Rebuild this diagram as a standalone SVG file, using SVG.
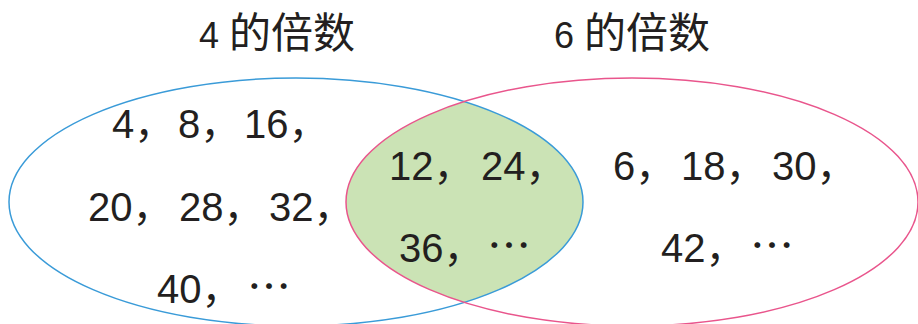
<svg xmlns="http://www.w3.org/2000/svg" width="918" height="324" viewBox="0 0 918 324">
<style>
.num{font-family:"Liberation Sans","Noto Sans CJK SC",Arial,sans-serif;font-size:40px;fill:#231f20}
.ell{font-family:"Noto Sans CJK SC",sans-serif;font-size:44px;fill:#231f20}
.ttl{font-family:"Liberation Sans","Noto Sans CJK SC",sans-serif;fill:#231f20}
.cjk{font-family:"Noto Sans CJK SC",sans-serif;font-size:42px}
</style>
<defs>
<clipPath id="clipL"><ellipse cx="296" cy="202" rx="287" ry="124"/></clipPath>
</defs>
<g id="intersection">
<ellipse cx="632" cy="202" rx="286" ry="124" fill="#cbe3b5" clip-path="url(#clipL)"/>
</g>
<g id="set4">
<ellipse cx="296" cy="202" rx="287" ry="124" fill="none" stroke="#3a9bd8" stroke-width="1.5"/>
</g>
<g id="set6">
<ellipse cx="632" cy="202" rx="286" ry="124" fill="none" stroke="#e9558c" stroke-width="1.5"/>
</g>
<g id="titles">
<text class="ttl" x="199" y="48"><tspan font-size="36">4 </tspan><tspan class="cjk">的倍数</tspan></text>
<text class="ttl" x="554" y="48"><tspan font-size="36">6 </tspan><tspan class="cjk">的倍数</tspan></text>
</g>
<g id="labels">
<text class="num" y="138"><tspan x="112">4，</tspan><tspan x="178">8，</tspan><tspan x="244">16，</tspan></text>
<text class="num" y="221"><tspan x="88">20，</tspan><tspan x="179">28，</tspan><tspan x="269">32，</tspan></text>
<text class="num" y="303"><tspan x="157">40，</tspan></text>
<text class="ell" x="247" y="303">…</text>
<text class="num" y="180"><tspan x="389">12，</tspan><tspan x="481">24，</tspan></text>
<text class="num" y="262"><tspan x="399">36，</tspan></text>
<text class="ell" x="487" y="262">…</text>
<text class="num" y="180"><tspan x="613">6，</tspan><tspan x="681">18，</tspan><tspan x="772">30，</tspan></text>
<text class="num" y="262"><tspan x="661">42，</tspan></text>
<text class="ell" x="750" y="262">…</text>
</g>
</svg>
